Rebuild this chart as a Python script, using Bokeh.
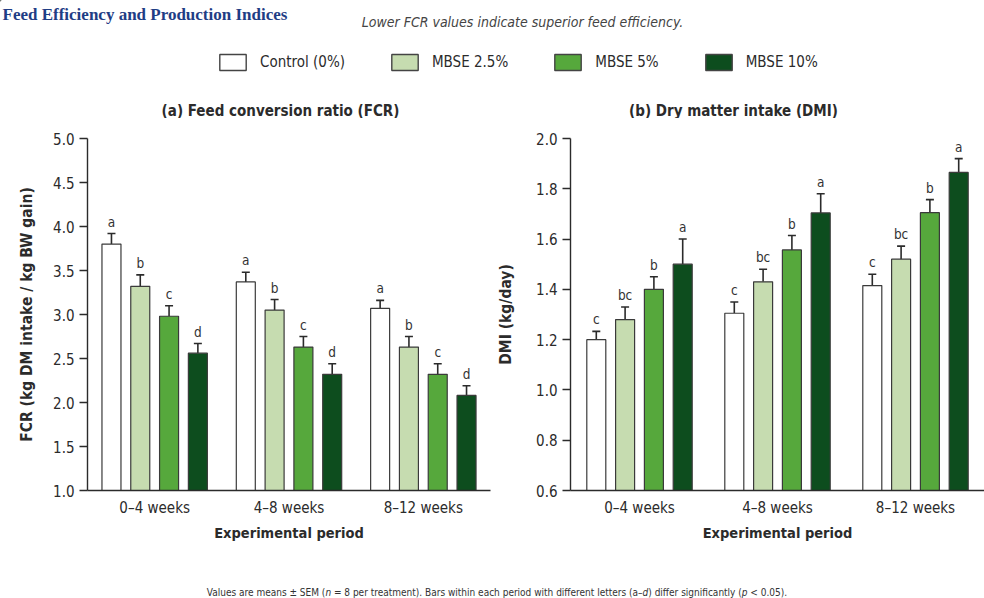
from bokeh.plotting import figure
from bokeh.models import (FactorRange, Range1d, FixedTicker, PrintfTickFormatter, Whisker,
                          TeeHead, ColumnDataSource, Legend, LegendItem, Div)
from bokeh.transform import dodge
from bokeh.layouts import column, row
from bokeh.core.properties import value
from bokeh.embed import file_html
from bokeh.resources import INLINE

# ---------------- data ----------------
periods = ["0–4 weeks", "4–8 weeks", "8–12 weeks"]
treatments = ["Control (0%)", "MBSE 2.5%", "MBSE 5%", "MBSE 10%"]
colors = ["#ffffff", "#c6dcb0", "#56a83c", "#0d4d1e"]

fcr_control = [3.80, 3.37, 3.07]
fcr_mbse25 = [3.32, 3.05, 2.63]
fcr_mbse5 = [2.98, 2.63, 2.32]
fcr_mbse10 = [2.56, 2.32, 2.08]
fcr_sem_control = [0.12, 0.11, 0.09]
fcr_sem_mbse25 = [0.13, 0.12, 0.12]
fcr_sem_mbse5 = [0.12, 0.12, 0.12]
fcr_sem_mbse10 = [0.11, 0.12, 0.11]
fcr_letters_control = ["a", "a", "a"]
fcr_letters_mbse25 = ["b", "b", "b"]
fcr_letters_mbse5 = ["c", "c", "c"]
fcr_letters_mbse10 = ["d", "d", "d"]

dmi_control = [1.20, 1.305, 1.415]
dmi_mbse25 = [1.28, 1.43, 1.52]
dmi_mbse5 = [1.40, 1.557, 1.705]
dmi_mbse10 = [1.50, 1.704, 1.865]
dmi_sem_control = [0.033, 0.045, 0.045]
dmi_sem_mbse25 = [0.05, 0.05, 0.052]
dmi_sem_mbse5 = [0.05, 0.057, 0.052]
dmi_sem_mbse10 = [0.10, 0.076, 0.055]
dmi_letters_control = ["c", "c", "c"]
dmi_letters_mbse25 = ["bc", "bc", "bc"]
dmi_letters_mbse5 = ["b", "b", "b"]
dmi_letters_mbse10 = ["a", "a", "a"]

fcr_ticks = [1.0, 1.5, 2.0, 2.5, 3.0, 3.5, 4.0, 4.5, 5.0]
dmi_ticks = [0.6, 0.8, 1.0, 1.2, 1.4, 1.6, 1.8, 2.0]

panel_titles = ["(a) Feed conversion ratio (FCR)", "(b) Dry matter intake (DMI)"]

# ---------------- style ----------------
FONT = "DejaVu Sans Condensed"
INK = "#2b2b2b"
STEP_PX = 28.8
BAR_PX = 19.0
HEADER_H = 118


def panel(ylabel, vals, sems, letters, ticks, ystart, yend, width, bl, br, label_standoff):
    p = figure(width=width, height=452, x_range=FactorRange(*periods, range_padding=0),
               y_range=Range1d(ystart, yend), output_backend="svg", toolbar_location=None,
               min_border_left=bl, min_border_right=br, min_border_top=20, min_border_bottom=80)
    p.outline_line_color = None
    p.grid.visible = False
    p.background_fill_color = None
    p.border_fill_color = None

    px_per_unit = (width - bl - br) / 3.0
    step = STEP_PX / px_per_unit
    bw = BAR_PX / px_per_unit
    offsets = [-1.5 * step, -0.5 * step, 0.5 * step, 1.5 * step]

    for i in range(4):
        src = ColumnDataSource(dict(period=periods, top=vals[i],
                                    upper=[v + s for v, s in zip(vals[i], sems[i])],
                                    letter=letters[i]))
        xd = dodge("period", offsets[i], range=p.x_range)
        p.vbar(x=xd, top="top", bottom=ystart - 1, width=bw, source=src,
               fill_color=colors[i], line_color="#3a3a3a", line_width=1.2)
        w = Whisker(base=xd, lower="top", upper="upper", source=src, dimension="height",
                    line_color=INK, line_width=1.6, lower_head=None,
                    upper_head=TeeHead(size=8, line_color=INK, line_width=1.6))
        p.add_layout(w)
        p.text(x=xd, y="upper", text="letter", source=src, text_align="center",
               text_baseline="bottom", y_offset=-4, text_font=value(FONT),
               text_font_size="13.5px", text_color="#333333")

    p.yaxis.ticker = FixedTicker(ticks=ticks)
    p.yaxis.formatter = PrintfTickFormatter(format="%.1f")
    p.yaxis.minor_tick_line_color = None
    p.yaxis.major_tick_in = 0
    p.yaxis.major_tick_out = 8
    p.yaxis.major_tick_line_color = INK
    p.yaxis.major_tick_line_width = 1.4
    p.yaxis.axis_line_color = INK
    p.yaxis.axis_line_width = 1.4
    p.yaxis.major_label_text_font = FONT
    p.yaxis.major_label_text_font_size = "15px"
    p.yaxis.major_label_text_color = INK
    p.yaxis.axis_label = ylabel
    p.yaxis.axis_label_text_font = FONT
    p.yaxis.axis_label_text_font_style = "bold"
    p.yaxis.axis_label_text_font_size = "15.5px"
    p.yaxis.axis_label_text_color = INK
    p.yaxis.axis_label_standoff = label_standoff

    p.xaxis.major_tick_line_color = None
    p.xaxis.minor_tick_line_color = None
    p.xaxis.axis_line_color = INK
    p.xaxis.axis_line_width = 1.4
    p.xaxis.major_label_text_font = FONT
    p.xaxis.major_label_text_font_size = "15px"
    p.xaxis.major_label_text_color = INK
    p.xaxis.major_label_standoff = 2
    p.xaxis.axis_label = "Experimental period"
    p.xaxis.axis_label_text_font = FONT
    p.xaxis.axis_label_text_font_style = "bold"
    p.xaxis.axis_label_text_font_size = "14.5px"
    p.xaxis.axis_label_text_color = INK
    p.xaxis.axis_label_standoff = 5
    return p


pa = panel("FCR (kg DM intake / kg BW gain)",
           [fcr_control, fcr_mbse25, fcr_mbse5, fcr_mbse10],
           [fcr_sem_control, fcr_sem_mbse25, fcr_sem_mbse5, fcr_sem_mbse10],
           [fcr_letters_control, fcr_letters_mbse25, fcr_letters_mbse5, fcr_letters_mbse10],
           fcr_ticks, 1.0, 5.0, 492, 87, 2, 14)
pb = panel("DMI (kg/day)",
           [dmi_control, dmi_mbse25, dmi_mbse5, dmi_mbse10],
           [dmi_sem_control, dmi_sem_mbse25, dmi_sem_mbse5, dmi_sem_mbse10],
           [dmi_letters_control, dmi_letters_mbse25, dmi_letters_mbse5, dmi_letters_mbse10],
           dmi_ticks, 0.6, 2.0, 492, 78, 0, 18)

# ---------------- header (titles, subtitle, legend) ----------------
header = figure(width=984, height=HEADER_H, x_range=Range1d(0, 984), y_range=Range1d(HEADER_H, 0),
                output_backend="svg", toolbar_location=None, min_border=0)
header.axis.visible = False
header.grid.visible = False
header.outline_line_color = None
header.text(x=[2], y=[14], text=["Feed Efficiency and Production Indices"],
            text_font=value("Liberation Serif"), text_font_style="bold",
            text_font_size="17px", text_color="#1f3d85", text_baseline="alphabetic")
header.text(x=[522], y=[21], text=["Lower FCR values indicate superior feed efficiency."],
            text_font=value(FONT), text_font_style="italic", text_font_size="14px",
            text_color="#444444", text_align="center", text_baseline="middle")
header.text(x=[280, 733], y=[110, 110], text=panel_titles,
            text_font=value(FONT), text_font_style="bold", text_font_size="15px",
            text_color=INK, text_align="center", text_baseline="middle")
items = []
for t, c in zip(treatments, colors):
    # off-screen proxy glyph: only its legend swatch is seen
    r = header.vbar(x=[-200], top=[-200], bottom=[-201], width=1, fill_color=c,
                    line_color="#444444", line_width=1.4)
    items.append(LegendItem(label=t, renderers=[r]))
legend = Legend(items=items, orientation="horizontal", location=(216, HEADER_H - 72),
                glyph_width=33, glyph_height=20, label_standoff=11, spacing=43,
                label_text_font=FONT, label_text_font_size="15px", label_text_color=INK,
                border_line_color=None, background_fill_alpha=0, padding=0, margin=0)
header.add_layout(legend)

# ---------------- footer ----------------
footer = Div(text=("<div style='text-align:center;padding-left:28px;padding-top:11px;"
                   "width:956px;white-space:nowrap;line-height:13px'>"
                   "Values are means ± SEM (<i>n</i> = 8 per treatment). Bars within each period "
                   "with different letters (a–<i>d</i>) differ significantly (<i>p</i> &lt; 0.05).</div>"),
             width=984, height=28,
             styles={"font-family": FONT, "font-size": "10px", "color": "#333333"})

layout = column(header, row(pa, pb), footer)
open("out.html", "w").write(file_html(layout, INLINE))
